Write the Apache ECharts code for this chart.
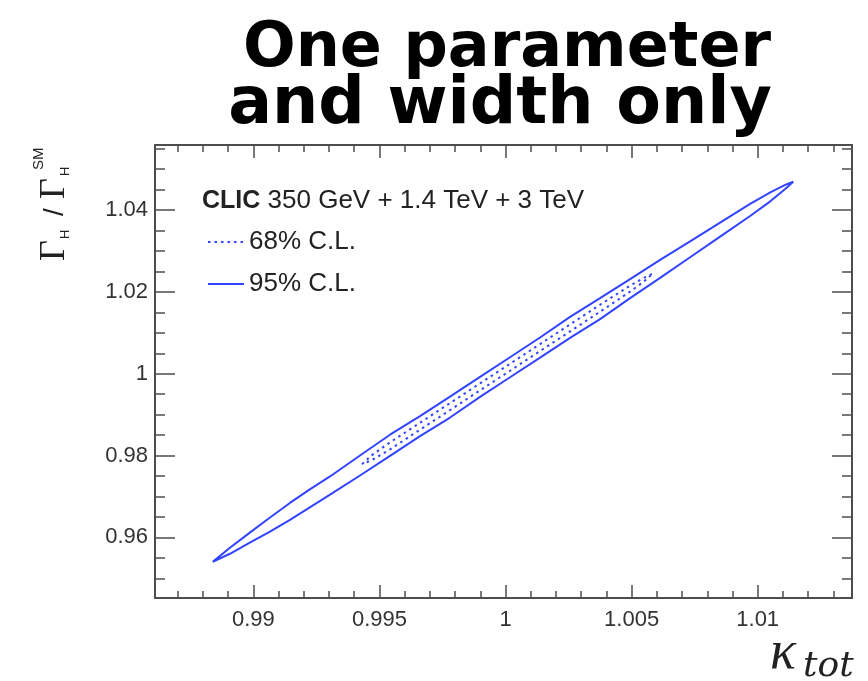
<!DOCTYPE html>
<html>
<head>
<meta charset="utf-8">
<script src="https://cdn.jsdelivr.net/npm/echarts@6/dist/echarts.min.js"></script>
<style>
  html, body { margin: 0; padding: 0; background: #fff; }
  #chart { width: 868px; height: 681px; }
</style>
</head>
<body>
<div id="chart"></div>
<script>
// axis ranges and ticks
const xRange = [0.9861, 1.01374];
const yRange = [0.9452, 1.0559];
const xMajorTicks = [0.99, 0.995, 1, 1.005, 1.01];
const xTickLabels = ['0.99', '0.995', '1', '1.005', '1.01'];
const yMajorTicks = [0.96, 0.98, 1, 1.02, 1.04];
const yTickLabels = ['0.96', '0.98', '1', '1.02', '1.04'];

// 95% C.L. contour (kappa_tot, Gamma_H / Gamma_H^SM)
const contour95 = [
  [0.98839, 0.95403], [0.98907, 0.95748], [0.98986, 0.96117], [0.99066, 0.96487],
  [0.99145, 0.96843], [0.99224, 0.97176], [0.99304, 0.97490], [0.99423, 0.98002],
  [0.99542, 0.98510], [0.99661, 0.98963], [0.99780, 0.99443], [0.99899, 0.99924],
  [1.00018, 1.00403], [1.00137, 1.00885], [1.00256, 1.01390], [1.00375, 1.01846],
  [1.00494, 1.02313], [1.00613, 1.02782], [1.00732, 1.03237], [1.00851, 1.03694],
  [1.00970, 1.04149], [1.01050, 1.04433], [1.01109, 1.04614], [1.01141, 1.04692],
  [1.01109, 1.04516], [1.01050, 1.04213], [1.00970, 1.03856], [1.00851, 1.03352],
  [1.00732, 1.02846], [1.00613, 1.02342], [1.00494, 1.01848], [1.00375, 1.01335],
  [1.00256, 1.00875], [1.00137, 1.00396], [1.00018, 0.99914], [0.99899, 0.99435],
  [0.99780, 0.98930], [0.99661, 0.98474], [0.99542, 0.97993], [0.99423, 0.97513],
  [0.99304, 0.97044], [0.99224, 0.96736], [0.99145, 0.96428], [0.99066, 0.96144],
  [0.98986, 0.95873], [0.98907, 0.95601], [0.98839, 0.95403]
];

// 68% C.L. contour
const contour68 = [
  [0.99431, 0.97790], [0.99470, 0.98010], [0.99542, 0.98323], [0.99661, 0.98804],
  [0.99780, 0.99284], [0.99899, 0.99765], [1.00018, 1.00245], [1.00137, 1.00726],
  [1.00256, 1.01205], [1.00375, 1.01687], [1.00494, 1.02154], [1.00546, 1.02337],
  [1.00585, 1.02450], [1.00546, 1.02240], [1.00494, 1.02007], [1.00375, 1.01516],
  [1.00256, 1.01034], [1.00137, 1.00555], [1.00018, 1.00073], [0.99899, 0.99594],
  [0.99780, 0.99112], [0.99661, 0.98633], [0.99542, 0.98152], [0.99470, 0.97888],
  [0.99431, 0.97790]
];

const titleLines = ['One parameter', 'and width only'];
const legendHeader = ['CLIC', '350 GeV + 1.4 TeV + 3 TeV'];
const seriesNames = ['68% C.L.', '95% C.L.'];

const blue = '#3344ff';
const frame = '#4d4d4d';
const textColor = '#222';
const sans = '"Liberation Sans", Arial, sans-serif';
const serif = '"Liberation Serif", "DejaVu Serif", serif';

// minor tick positions between major ones
function minorTicks(from, to, step, majors) {
  const out = [];
  for (let v = from; v <= to + step / 2; v += step) {
    const r = Math.round(v * 1e5) / 1e5;
    if (!majors.some(m => Math.abs(m - r) < step / 10)) out.push(r);
  }
  return out;
}
const xMinorTicks = minorTicks(0.987, 1.013, 0.001, xMajorTicks);
const yMinorTicks = minorTicks(0.95, 1.055, 0.005, yMajorTicks);

function xAxisDef(position, ticks, len, withLabels, withLine) {
  return {
    type: 'value', position, min: xRange[0], max: xRange[1],
    axisLine: { show: withLine, onZero: false, lineStyle: { color: frame, width: 2 } },
    axisTick: { show: true, inside: true, length: len, customValues: ticks,
                lineStyle: { color: frame, width: 1.5 } },
    axisLabel: { show: withLabels, customValues: xMajorTicks, margin: 11,
                 fontSize: 22, fontFamily: sans, color: '#333',
                 formatter: v => xTickLabels[xMajorTicks.indexOf(v)] ?? String(v) },
    splitLine: { show: false }
  };
}
function yAxisDef(position, ticks, len, withLabels, withLine) {
  return {
    type: 'value', position, min: yRange[0], max: yRange[1],
    axisLine: { show: withLine, onZero: false, lineStyle: { color: frame, width: 2 } },
    axisTick: { show: true, inside: true, length: len, customValues: ticks,
                lineStyle: { color: frame, width: 1.5 } },
    axisLabel: { show: withLabels, customValues: yMajorTicks, margin: 7,
                 fontSize: 22, fontFamily: sans, color: '#333',
                 formatter: v => yTickLabels[yMajorTicks.indexOf(v)] ?? String(v) },
    splitLine: { show: false }
  };
}

const chart = echarts.init(document.getElementById('chart'), null, { renderer: 'canvas' });
chart.setOption({
  animation: false,
  backgroundColor: '#fff',
  grid: { left: 155, right: 16, top: 145, bottom: 83, containLabel: false, outerBoundsMode: 'none' },
  xAxis: [
    xAxisDef('bottom', xMajorTicks, 13, true, true),
    xAxisDef('bottom', xMinorTicks, 7, false, false),
    xAxisDef('top', xMajorTicks, 13, false, true),
    xAxisDef('top', xMinorTicks, 7, false, false)
  ],
  yAxis: [
    yAxisDef('left', yMajorTicks, 20, true, true),
    yAxisDef('left', yMinorTicks, 10, false, false),
    yAxisDef('right', yMajorTicks, 20, false, true),
    yAxisDef('right', yMinorTicks, 10, false, false)
  ],
  legend: {
    left: 207, top: 229, orient: 'vertical', padding: 0,
    itemWidth: 36, itemHeight: 14, itemGap: 16,
    itemStyle: { color: 'rgba(0,0,0,0)', borderWidth: 0, opacity: 0 },
    textStyle: { fontSize: 26, lineHeight: 26, fontFamily: sans, color: textColor },
    data: seriesNames,
    selectedMode: false
  },
  series: [
    {
      name: seriesNames[0], type: 'line', data: contour68,
      symbol: 'none', silent: true,
      lineStyle: { color: blue, width: 2, type: [2.5, 4] },
      itemStyle: { color: blue }
    },
    {
      name: seriesNames[1], type: 'line', data: contour95,
      symbol: 'none', silent: true,
      lineStyle: { color: blue, width: 2 },
      itemStyle: { color: blue }
    }
  ],
  graphic: [
    { type: 'text', x: 507, y: 50,
      style: { text: titleLines[0], fontSize: 62, fontWeight: 'bold', fontFamily: '"DejaVu Sans"',
               fill: '#000', align: 'center', verticalAlign: 'middle' } },
    { type: 'text', x: 500, y: 106,
      style: { text: titleLines[1], fontSize: 65, fontWeight: 'bold', fontFamily: '"DejaVu Sans"',
               fill: '#000', align: 'center', verticalAlign: 'middle' } },
    { type: 'text', x: 202, y: 201,
      style: {
        text: '{b|' + legendHeader[0] + '}{n| ' + legendHeader[1] + '}',
        verticalAlign: 'middle',
        rich: {
          b: { fontSize: 25, fontWeight: 'bold', fontFamily: sans, fill: textColor },
          n: { fontSize: 26, fontFamily: sans, fill: textColor }
        }
      } },
    // x axis title: kappa_tot
    { type: 'text', x: 770, y: 654,
      style: { text: 'κ', fontSize: 54, fontStyle: 'italic', fontFamily: serif, fill: textColor,
               verticalAlign: 'middle' } },
    { type: 'text', x: 803, y: 667,
      style: { text: 'tot', fontSize: 36, fontStyle: 'italic', fontFamily: '"DejaVu Serif", serif',
               fill: textColor, verticalAlign: 'middle' } },
    // y axis title: Gamma_H / Gamma_H^SM, rotated
    { type: 'group', x: 55, y: 261, rotation: Math.PI / 2,
      children: [
        { type: 'text', x: 0, y: 0,
          style: { text: 'Γ', fontSize: 36, fontFamily: serif, fill: textColor, verticalAlign: 'middle' } },
        { type: 'text', x: 22, y: 10,
          style: { text: 'H', fontSize: 13, fontFamily: sans, fill: textColor, verticalAlign: 'middle' } },
        { type: 'text', x: 45, y: 0,
          style: { text: '/', fontSize: 28, fontFamily: sans, fill: textColor, verticalAlign: 'middle' } },
        { type: 'text', x: 62, y: 0,
          style: { text: 'Γ', fontSize: 36, fontFamily: serif, fill: textColor, verticalAlign: 'middle' } },
        { type: 'text', x: 85, y: 10,
          style: { text: 'H', fontSize: 13, fontFamily: sans, fill: textColor, verticalAlign: 'middle' } },
        { type: 'text', x: 91, y: -16,
          style: { text: 'SM', fontSize: 15, fontFamily: sans, fill: textColor, verticalAlign: 'middle' } }
      ] }
  ]
});
</script>
</body>
</html>
